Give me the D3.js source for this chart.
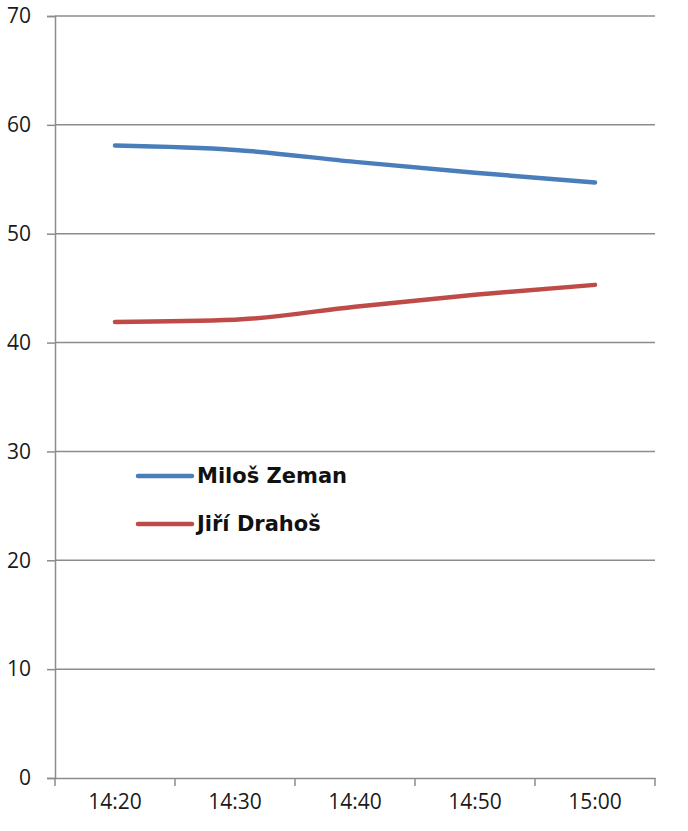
<!DOCTYPE html>
<html><head><meta charset="utf-8">
<script src="https://cdn.jsdelivr.net/npm/d3@7/dist/d3.min.js"></script>
<style>body{margin:0;background:#fff}svg{display:block}</style>
</head><body><svg id="c" width="688" height="831"></svg>
<script>
const categories = ["14:20","14:30","14:40","14:50","15:00"];
const zeman = [58.1, 57.7, 56.6, 55.6, 54.7];
const drahos = [41.9, 42.1, 43.3, 44.4, 45.3];
const seriesNames = ["Miloš Zeman","Jiří Drahoš"];
const yTicks = [0,10,20,30,40,50,60,70];

const svg = d3.select("#c");
const m = {l:55, r:33, t:16, b:53};
const W = 688, H = 831;
const x = d3.scaleBand().domain(categories).range([m.l, W-m.r]);
const y = d3.scaleLinear().domain([0,70]).range([H-m.b, m.t]);
const grey = "#8c8c8c";

// gridlines
svg.append("g").selectAll("line").data(yTicks.filter(d=>d>0)).join("line")
  .attr("x1", m.l).attr("x2", W-m.r).attr("y1", d=>y(d)).attr("y2", d=>y(d))
  .attr("stroke", grey).attr("stroke-width", 1.5);

// y axis
const ya = svg.append("g").attr("transform", `translate(${m.l},0)`)
  .call(d3.axisLeft(y).tickValues(yTicks).tickSize(8).tickPadding(16));
ya.select(".domain").attr("stroke", grey).attr("stroke-width",1.5);
ya.selectAll(".tick line").attr("stroke", grey).attr("stroke-width",1.5);
ya.selectAll("text").attr("font-family","Open Sans").attr("font-size",21).attr("fill","#1a1a1a");

// x axis
const xa = svg.append("g").attr("transform", `translate(0,${y(0)})`)
  .call(d3.axisBottom(x).tickSize(0).tickPadding(16));
xa.select(".domain").attr("stroke", grey).attr("stroke-width",1.5);
xa.selectAll("text").attr("font-family","Open Sans").attr("font-size",21).attr("fill","#1a1a1a");
// category boundary ticks
const bounds = categories.map(c=>x(c)).concat([x(categories[categories.length-1])+x.bandwidth()]);
xa.selectAll(".bt").data(bounds).join("line").attr("class","bt")
  .attr("x1", d=>d).attr("x2", d=>d).attr("y1",0).attr("y2",8)
  .attr("stroke", grey).attr("stroke-width",1.5);

const line = d3.line().x((d,i)=>x(categories[i])+x.bandwidth()/2).y(d=>y(d)).curve(d3.curveMonotoneX);
const colors = ["#4a7ebb","#be4b48"];
[zeman, drahos].forEach((s,k)=>{
  svg.append("path").datum(s).attr("d", line).attr("fill","none")
    .attr("stroke", colors[k]).attr("stroke-width",4.5).attr("stroke-linecap","round");
});

// legend
const lg = svg.append("g");
seriesNames.forEach((n,k)=>{
  const yy = 476 + k*48;
  lg.append("line").attr("x1",138).attr("x2",192).attr("y1",yy).attr("y2",yy)
    .attr("stroke",colors[k]).attr("stroke-width",4.5).attr("stroke-linecap","round");
  lg.append("text").attr("x",197).attr("y",yy+7).text(n)
    .attr("font-family","DejaVu Sans").attr("font-weight","bold").attr("font-size",21).attr("fill","#111");
});
</script></body></html>
